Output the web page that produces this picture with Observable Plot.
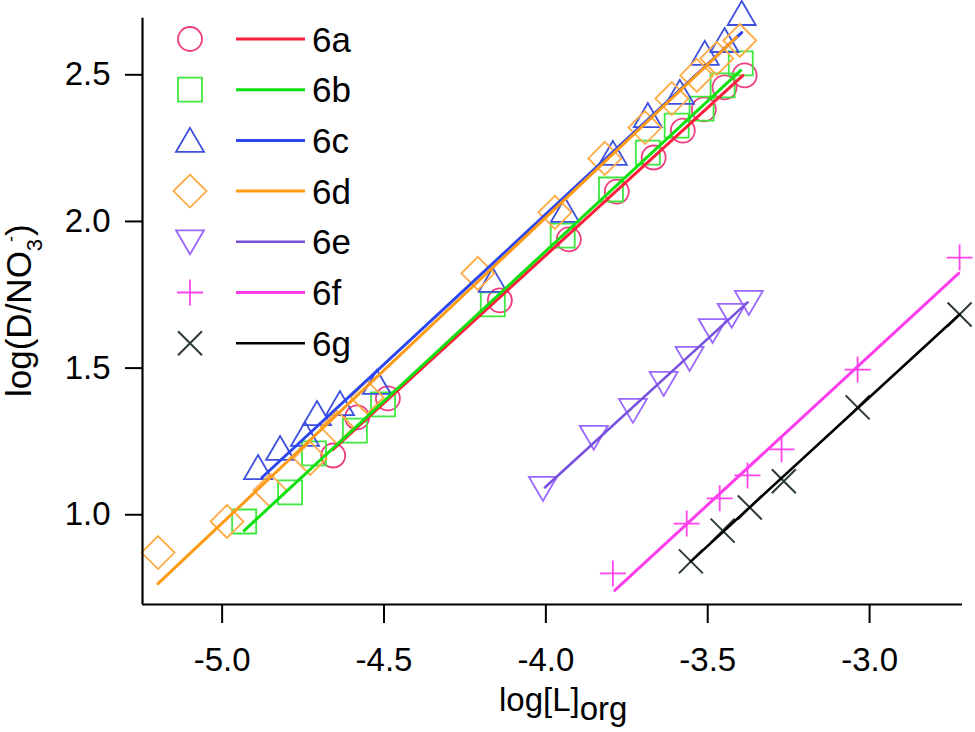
<!DOCTYPE html>
<html><head><meta charset="utf-8">
<script src="https://cdn.jsdelivr.net/npm/d3@7"></script>
<script src="https://cdn.jsdelivr.net/npm/@observablehq/plot@0.6"></script>
<style>body{margin:0;background:#fff} svg{display:block}</style>
</head><body><div id="chart"></div>
<script>
// ---- data ----
const seriesNames = ["6a","6b","6c","6d","6e","6f","6g"];

const x6a = [-4.657,-4.583,-4.488,-4.142,-3.929,-3.781,-3.667,-3.577,-3.512,-3.448,-3.386];
const y6a = [1.202,1.332,1.397,1.731,1.939,2.102,2.218,2.310,2.382,2.457,2.498];

const x6b = [-4.932,-4.790,-4.716,-4.590,-4.503,-4.164,-3.948,-3.799,-3.685,-3.596,-3.519,-3.454,-3.398];
const y6b = [0.977,1.076,1.209,1.287,1.376,1.717,1.952,2.109,2.235,2.327,2.385,2.464,2.539];

const x6c = [-4.889,-4.821,-4.744,-4.707,-4.636,-4.522,-4.164,-3.941,-3.793,-3.685,-3.586,-3.509,-3.448,-3.395];
const y6c = [1.161,1.226,1.274,1.345,1.379,1.451,1.799,2.038,2.232,2.361,2.440,2.573,2.617,2.709];

const x6d = [-5.198,-4.985,-4.852,-4.728,-4.645,-4.552,-4.210,-3.972,-3.818,-3.694,-3.611,-3.534,-3.472,-3.401];
const y6d = [0.871,0.977,1.083,1.192,1.298,1.400,1.823,2.031,2.215,2.320,2.419,2.498,2.556,2.617];

const x6e = [-4.009,-3.852,-3.731,-3.636,-3.556,-3.485,-3.426,-3.373];
const y6e = [1.090,1.264,1.356,1.448,1.533,1.628,1.680,1.724];

const x6f = [-3.793,-3.565,-3.463,-3.377,-3.272,-3.037,-2.722];
const y6f = [0.800,0.970,1.056,1.134,1.223,1.495,1.877];

const x6g = [-3.552,-3.454,-3.370,-3.265,-3.037,-2.722];
const y6g = [0.841,0.946,1.025,1.114,1.366,1.683];

// fitted lines: start and end points per series
const fitStartX = [-4.658,-4.932,-4.877,-5.198,-4.003,-3.787,-3.552];
const fitStartY = [1.222,0.946,1.127,0.765,1.093,0.742,0.841];
const fitEndX   = [-3.391,-3.398,-3.395,-3.411,-3.377,-2.725,-2.722];
const fitEndY   = [2.498,2.515,2.644,2.628,1.724,1.823,1.683];

const xTicks = [-5.0,-4.5,-4.0,-3.5,-3.0];
const yTicks = [1.0,1.5,2.0,2.5];
const xDomain = [-5.246,-2.713];
const yDomain = [0.694,2.693];

// ---- styles ----
const markerColors = ["#ee3d82","#3fe83f","#3d4fdd","#ffab45","#9a68ff","#ff44ee","#2b3a3a"];
const lineColors   = ["#ff1e3c","#10e010","#2d47ee","#ff9a14","#7a52e0","#ff3cee","#000000"];
const lineWidths   = [3,3,3,3,2.6,3,2.6];
const markerWidths = [1.8,1.8,1.8,1.8,1.8,1.8,2];

const poly = pts => ({draw(ctx){ctx.moveTo(pts[0][0],pts[0][1]); for (const p of pts.slice(1)) ctx.lineTo(p[0],p[1]); ctx.closePath();}});
const symbols = [
  {draw(ctx){ctx.moveTo(12,0); ctx.arc(0,0,12,0,2*Math.PI);}},
  poly([[-12,-12],[12,-12],[12,12],[-12,12]]),
  poly([[0,-12.5],[14,11.5],[-14,11.5]]),
  poly([[0,-16.5],[16.5,0],[0,16.5],[-16.5,0]]),
  poly([[-14,-11.5],[14,-11.5],[0,12.5]]),
  {draw(ctx){ctx.moveTo(-13,0);ctx.lineTo(13,0);ctx.moveTo(0,-13);ctx.lineTo(0,13);}},
  {draw(ctx){ctx.moveTo(-12,-12);ctx.lineTo(12,12);ctx.moveTo(-12,12);ctx.lineTo(12,-12);}}
];

const xs = [x6a,x6b,x6c,x6d,x6e,x6f,x6g];
const ys = [y6a,y6b,y6c,y6d,y6e,y6f,y6g];

const marks = [];
seriesNames.forEach((s,i) => {
  const pts = xs[i].map((x,j) => ({x, y: ys[i][j]}));
  marks.push(Plot.dot(pts, {x:"x", y:"y", symbol: symbols[i], stroke: markerColors[i], fill:"none", strokeWidth: markerWidths[i]}));
});
seriesNames.forEach((s,i) => {
  const seg = [{x: fitStartX[i], y: fitStartY[i]}, {x: fitEndX[i], y: fitEndY[i]}];
  marks.push(Plot.line(seg, {x:"x", y:"y", stroke: lineColors[i], strokeWidth: lineWidths[i]}));
});

const fmt = d => d.toFixed(1);
const chart = Plot.plot({
  width: 975, height: 732,
  marginLeft: 142, marginRight: 13, marginTop: 17.7, marginBottom: 128,
  style: {fontFamily: "'Liberation Sans', Arial, sans-serif", background: "#fff"},
  x: {domain: xDomain, label: null},
  y: {domain: yDomain, label: null},
  marks: [
    ...marks,
    Plot.ruleX([xDomain[0]], {strokeWidth: 2.2, stroke: "#000"}),
    Plot.ruleY([yDomain[0]], {strokeWidth: 2.2, stroke: "#000"}),
    Plot.axisX(xTicks, {tickSize: 19, tickPadding: 24, tickFormat: fmt, fontSize: 33, strokeWidth: 2, label: null}),
    Plot.axisY(yTicks, {tickSize: 17, tickPadding: 15, tickFormat: fmt, fontSize: 33, strokeWidth: 2, label: null})
  ]
});
document.getElementById("chart").appendChild(chart);

// ---- legend and axis titles ----
const svg = d3.select(chart);
const font = "'Liberation Sans', Arial, sans-serif";
const lg = svg.append("g").attr("text-anchor","start");
seriesNames.forEach((s,i) => {
  const cy = 39 + i*50.7;
  lg.append("path").attr("transform", `translate(190,${cy})`)
    .attr("d", d3.symbol(symbols[i])()).attr("fill","none")
    .attr("stroke", markerColors[i]).attr("stroke-width", markerWidths[i]);
  lg.append("line").attr("x1",236).attr("x2",305).attr("y1",cy).attr("y2",cy)
    .attr("stroke", lineColors[i]).attr("stroke-width", lineWidths[i]);
  lg.append("text").attr("x",312).attr("y",cy+12.5).attr("font-size",35)
    .attr("text-anchor","start")
    .attr("font-family",font).attr("fill","#000").text(s);
});

const xt = svg.append("text").attr("x",499).attr("y",711).attr("font-size",33)
  .attr("text-anchor","start")
  .attr("font-family",font).attr("fill","#000");
xt.append("tspan").text("log[L]");
xt.append("tspan").attr("dy",9).text("org");

const yt = svg.append("text").attr("transform","translate(31,397) rotate(-90)")
  .attr("text-anchor","start")
  .attr("font-size",35).attr("font-family",font).attr("fill","#000");
yt.append("tspan").text("log(D/NO");
yt.append("tspan").attr("dy",11).attr("font-size",22).text("3");
yt.append("tspan").attr("dy",-25).attr("dx",-3).attr("font-size",18).text("-");
yt.append("tspan").attr("dy",14).attr("font-size",35).text(")");
</script>
</body></html>
